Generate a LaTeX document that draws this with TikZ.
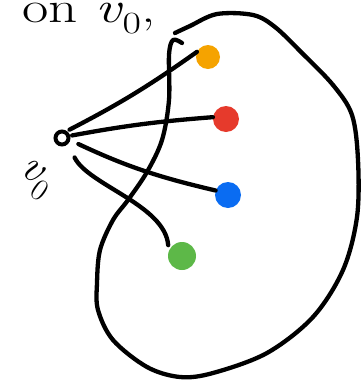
\documentclass[tikz,border=0pt]{standalone}
\usepackage{fontspec}
\usepackage{xcolor}
\usepackage{tikz}
\usetikzlibrary{positioning}

\definecolor{dotorange}{HTML}{F5A300}
\definecolor{dotred}{HTML}{E63A2C}
\definecolor{dotblue}{HTML}{0A6CF2}
\definecolor{dotgreen}{HTML}{5DB848}
\newcommand{\vzero}{\textit{v}\textsubscript{0}}

\begin{document}
\begin{tikzpicture}[
    x=1pt, y=1pt,
    vtx/.style={draw, circle, line width=4pt, inner sep=0pt, minimum size=13pt},
    dot/.style={circle, inner sep=0pt, minimum size=24pt},
    edge/.style={line width=4.3pt, line cap=round},
    blob/.style={line width=4.3pt, line cap=round, line join=round},
    lbl/.style={inner sep=0pt, font=\fontsize{44}{48}\selectfont}
]
\useasboundingbox (0,0) rectangle (364,-381);
\node[vtx] (v0) at (62,-138) {};
\node[dot, fill=dotorange] (o) at (208,-57) {};
\node[dot, fill=dotred, minimum size=26pt] (r) at (226,-119) {};
\node[dot, fill=dotblue, minimum size=26pt] (b) at (228,-195) {};
\node[dot, fill=dotgreen, minimum size=28pt] (g) at (182,-256) {};
\node[lbl, anchor=base west, xscale=1.3] (top) at (22,-22) {on \vzero,};
\node[lbl, rotate=-35] (name) at (35,-180) {\vzero};
% the region
\draw[blob] plot[smooth, tension=0.55] coordinates {
    (175,-33) (190,-26) (217,-14) (253,-15) (275,-27) (302,-53) (333,-85)
    (352,-115) (358,-160) (357,-217) (343,-270) (313,-317) (267,-353)
    (213,-373) (180,-377) (147,-367) (113,-340) (98,-310) (97,-283)
    (100,-250) (113,-220) (128,-200) (147,-172) (162,-140) (169,-100)
    (169,-55) (173,-40) (182,-43)};
% edges from v0
\draw[edge, shorten <=3pt] (v0.55) to[bend right=4] (o.155);
\draw[edge, shorten <=2pt] (v0.15) to[bend left=3] (r.172);
\draw[edge, shorten <=9pt] (v0.-15) to[bend right=6] (b.160);
\draw[edge, shorten <=15pt, shorten >=6pt] (v0.-45)
    .. controls (88,-185) and (165,-205) .. (g.160);
\end{tikzpicture}
\end{document}
